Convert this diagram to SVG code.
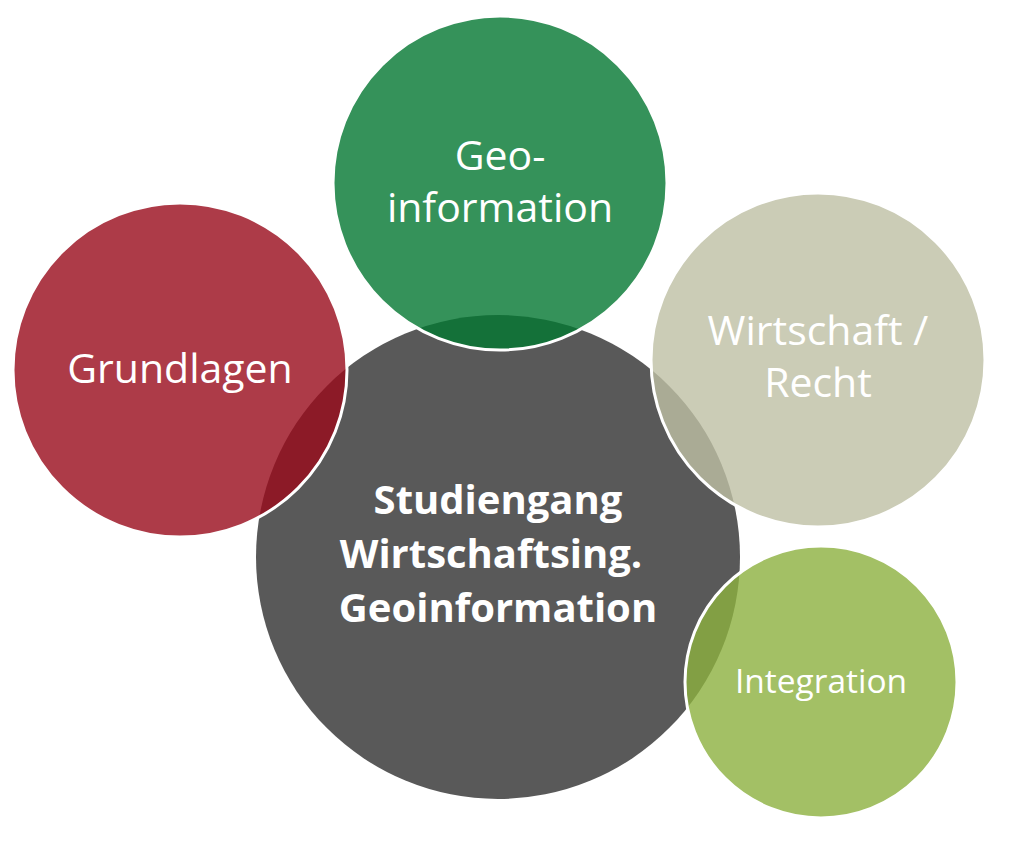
<svg xmlns="http://www.w3.org/2000/svg" width="1014" height="844" viewBox="0 0 1014 844">
<style>
.outer{stroke:#fff;stroke-width:3;fill-opacity:0.8}
.lbl{font-family:"Open Sans","Liberation Sans",sans-serif;fill:#fff;text-anchor:middle}
.big{font-size:41px}
.mid{font-size:33.5px}
.ctr{font-size:40px;font-weight:bold}
</style>
<rect width="1014" height="844" fill="#fff"/>
<g id="center">
<circle cx="498" cy="557" r="242" fill="#595959"/>
<text class="lbl ctr" x="498" y="514">Studiengang</text>
<text class="lbl ctr" x="491" y="568">Wirtschaftsing.</text>
<text class="lbl ctr" x="498" y="622">Geoinformation</text>
</g>
<g id="grundlagen">
<circle class="outer" cx="180" cy="370" r="167" fill="#980A1A"/>
<text class="lbl big" x="180" y="383">Grundlagen</text>
</g>
<g id="geoinformation">
<circle class="outer" cx="500" cy="183" r="167" fill="#027731"/>
<text class="lbl big" x="500" y="170">Geo-</text>
<text class="lbl big" x="500" y="222">information</text>
</g>
<g id="wirtschaft">
<circle class="outer" cx="818" cy="360" r="167" fill="#BEBFA4"/>
<text class="lbl big" x="818" y="345">Wirtschaft /</text>
<text class="lbl big" x="818" y="397">Recht</text>
</g>
<g id="integration">
<circle class="outer" cx="821" cy="682" r="136" fill="#8CB03F"/>
<text class="lbl mid" x="821" y="693">Integration</text>
</g>
<g id="connectors"/>
</svg>
